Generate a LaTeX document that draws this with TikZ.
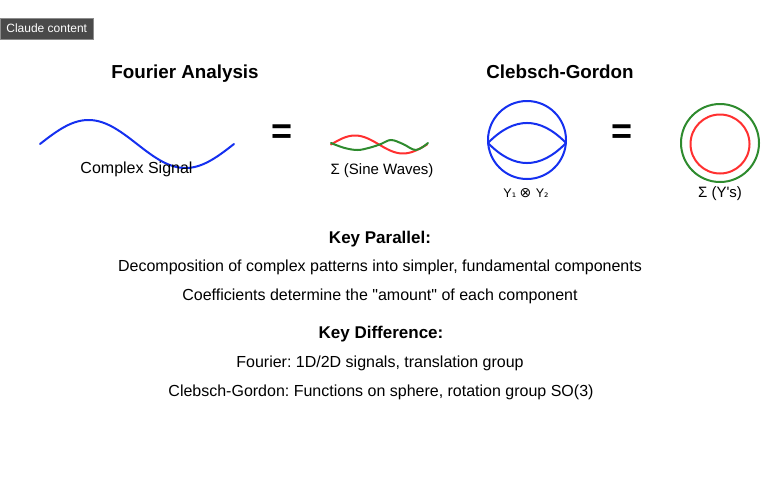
\documentclass[tikz,border=0pt]{standalone}
\usepackage{fontspec}
\setmainfont{Liberation Sans}[Ligatures=TeXOff]
\newfontfamily\djv{DejaVu Sans}
\definecolor{cblue}{HTML}{1530F0}
\definecolor{cred}{HTML}{FF3030}
\definecolor{cgreen}{HTML}{2E8B2E}
\definecolor{badgebg}{HTML}{4A4A4A}
\frenchspacing
\begin{document}
\begin{tikzpicture}[x=1pt,y=-1pt,
  txt/.style={inner sep=0pt, anchor=base, font=\fontsize{16}{18}\selectfont},
  small/.style={inner sep=0pt, anchor=base, font=\fontsize{15}{17}\selectfont},
  title/.style={inner sep=0pt, anchor=base, font=\bfseries\fontsize{18.8}{21}\selectfont},
  head/.style={inner sep=0pt, anchor=base, font=\bfseries\fontsize{17}{19}\selectfont},
  eqsign/.style={inner sep=0pt, anchor=center, font=\bfseries\fontsize{36}{38}\selectfont},
  curve/.style={line width=2pt, line cap=round}]
\useasboundingbox (0,0) rectangle (775,482);
\fill[white] (0,0) rectangle (775,482);

% badge
\node[draw=black!45, fill=badgebg, text=white, font=\fontsize{12}{14}\selectfont,
  minimum width=93pt, minimum height=21pt, inner sep=0pt, anchor=north west] (badge) at (0,18) {Claude content};

% titles
\node[title] (fourier) at (185,78) {Fourier Analysis};
\node[title] (clebsch) at (560,78) {Clebsch-Gordon};

% complex signal
\draw[curve, cblue] plot[domain=40:234, samples=90, smooth] (\x, {144-24*sin(1.85567*(\x-40))});
\node[txt] (complex) at (136.5,173) {Complex Signal};

% equals 1
\node[eqsign] (eq1) at (282,134) {=};

% sine waves
\draw[curve, cred] plot[domain=331:427, samples=50, smooth] (\x, {144.5-9*sin(3.75*(\x-331))});
\draw[curve, cgreen] plot[smooth, tension=0.6] coordinates {(331,143) (344,147.8) (357.5,150) (370,147.6) (381,144) (391,140) (403,144) (416,150) (428,143)};
\node[small] (sine) at (382,174) {Σ (Sine Waves)};

% tensor product
\draw[line width=2pt, cblue] (527,140) circle[radius=39];
\draw[line width=2pt, cblue] (488,143) .. controls (514,116.3) and (540,116.3) .. (566,143);
\draw[line width=2pt, cblue] (488,143) .. controls (514,169.7) and (540,169.7) .. (566,143);
\node[inner sep=0pt, anchor=base, font=\fontsize{12.5}{14}\selectfont] (tensor) at (526,197) {Y{\djv\fontsize{11}{13}\selectfont ₁ }{\djv\fontsize{14}{14}\selectfont ⊗ }Y{\djv\fontsize{11}{13}\selectfont ₂}};

% equals 2
\node[eqsign] (eq2) at (622,134) {=};

% sum of Y's
\draw[line width=2pt, cgreen] (720,143) circle[radius=39];
\draw[line width=2pt, cred] (720,144) circle[radius=29.5];
\node[small] (sumy) at (720,197) {Σ (Y's)};

% key parallel
\node[head] (kp) at (380,243) {Key Parallel:};
\node[txt] (kp1) at (380,271.5) {Decomposition of complex patterns into simpler, fundamental components};
\node[txt] (kp2) at (380,300.5) {Coefficients determine the "amount" of each component};

% key difference
\node[head] (kd) at (381,338) {Key Difference:};
\node[txt] (kd1) at (380,367.5) {Fourier: 1D/2D signals, translation group};
\node[txt] (kd2) at (381,396.5) {Clebsch-Gordon: Functions on sphere, rotation group SO(3)};
\end{tikzpicture}
\end{document}
